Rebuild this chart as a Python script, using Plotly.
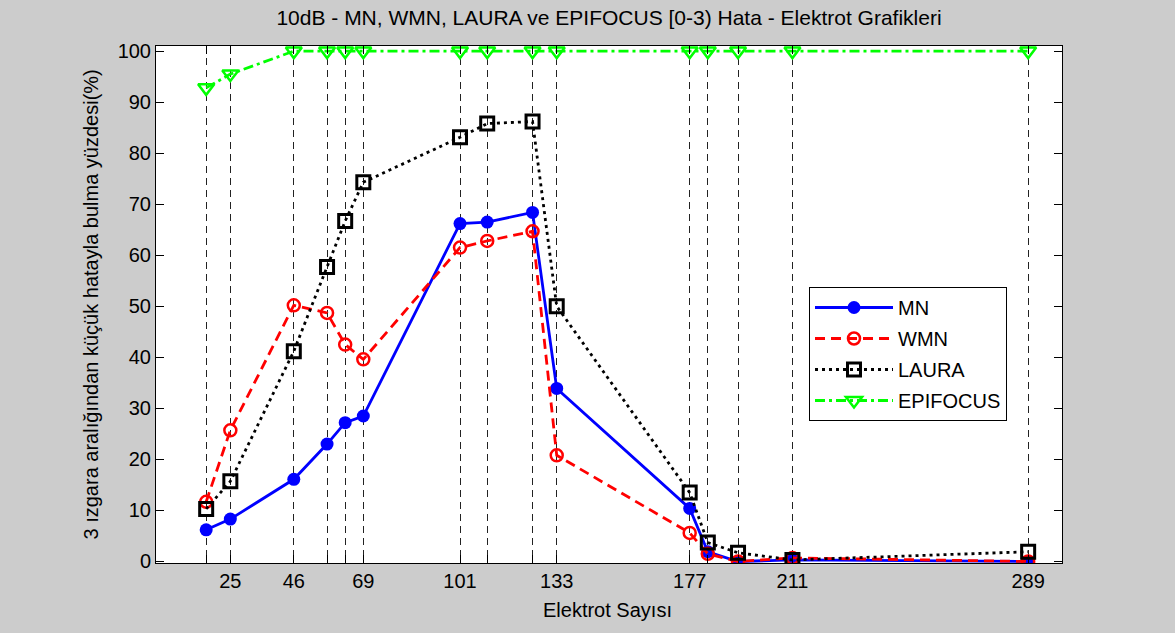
import plotly.graph_objects as go

electrodes = [17, 25, 46, 57, 63, 69, 101, 110, 125, 133, 177, 183, 193, 211, 289]
tick_labels = ["", "25", "46", "", "", "69", "101", "", "", "133", "177", "", "", "211", "289"]

mn = [6.2, 8.3, 16.1, 23.0, 27.2, 28.5, 66.2, 66.5, 68.4, 33.9, 10.4, 1.9, 0.0, 0.3, 0.0]
wmn = [11.7, 25.7, 50.2, 48.7, 42.5, 39.6, 61.5, 62.8, 64.7, 20.8, 5.6, 1.5, 0.0, 0.7, 0.0]
laura = [10.3, 15.7, 41.2, 57.7, 66.7, 74.3, 83.1, 85.8, 86.2, 50.0, 13.5, 3.7, 1.7, 0.3, 1.9]
epifocus = [92.8, 95.5, 100, 100, 100, 100, 100, 100, 100, 100, 100, 100, 100, 100, 100]

title_text = "10dB - MN, WMN, LAURA ve EPIFOCUS [0-3) Hata - Elektrot Grafikleri"
xlabel = "Elektrot Sayısı"
ylabel = "3 ızgara aralığından küçük hatayla bulma yüzdesi(%)"

FONT = "Liberation Sans, Arial, sans-serif"

fig = go.Figure()
fig.add_trace(go.Scatter(
    x=electrodes, y=mn, name="MN", mode="lines+markers", legendgroup="g1",
    line=dict(color="#0000ff", width=2.8),
    marker=dict(symbol="circle", size=13, color="#0000ff"),
))
fig.add_trace(go.Scatter(
    x=electrodes, y=wmn, name="WMN", mode="lines+markers", legendgroup="g2",
    line=dict(color="#ff0000", width=2.8, dash="10px,6px"),
    marker=dict(symbol="circle-open", size=12, color="#ff0000", line=dict(width=2.5)),
))
fig.add_trace(go.Scatter(
    x=electrodes, y=laura, name="LAURA", mode="lines+markers", legendgroup="g3",
    line=dict(color="#000000", width=2.8, dash="3px,4px"),
    marker=dict(symbol="square-open", size=13, color="#000000", line=dict(width=3)),
))
fig.add_trace(go.Scatter(
    x=electrodes, y=epifocus, name="EPIFOCUS", mode="lines+markers", legendgroup="g4",
    line=dict(color="#00ff00", width=2.8, dash="10px,4px,3px,4px"),
    marker=dict(symbol="triangle-down-open", size=14, color="#00ff00", line=dict(width=2.5)),
))

fig.update_layout(
    width=1175, height=633,
    paper_bgcolor="#cccccc", plot_bgcolor="#ffffff",
    margin=dict(l=156, r=113, t=46, b=70, pad=0),
    font=dict(family=FONT, size=20, color="#000000"),
    title=dict(text=title_text, x=0.5, xref="paper", xanchor="center",
               y=1 - 18 / 633, yref="container", yanchor="middle",
               font=dict(family=FONT, size=21, color="#000000")),
    showlegend=True,
    legend=dict(x=(809 - 156) / 906, xanchor="left", y=(563 - 287) / 517, yanchor="top",
                bgcolor="#ffffff", bordercolor="#000000", borderwidth=1,
                font=dict(family=FONT, size=20, color="#000000"),
                itemwidth=78, traceorder="grouped", tracegroupgap=2),
    xaxis=dict(range=[0.4, 300.2], tickmode="array", tickvals=electrodes, ticktext=tick_labels,
               showgrid=True, gridcolor="#222222", gridwidth=1, griddash="7px,5px",
               zeroline=False, showline=True, linecolor="#000000", linewidth=1, mirror="ticks",
               ticks="inside", ticklen=8, tickcolor="#000000",
               tickfont=dict(family=FONT, size=20, color="#000000")),
    yaxis=dict(range=[-0.3, 101], tickmode="array", tickvals=list(range(0, 101, 10)),
               showgrid=False, zeroline=False, showline=True, linecolor="#000000", linewidth=1,
               mirror="ticks", ticks="inside", ticklen=8, tickcolor="#000000",
               tickfont=dict(family=FONT, size=20, color="#000000")),
    annotations=[
        dict(text=xlabel, xref="paper", yref="paper", x=(607 - 156) / 906, y=-(610 - 563) / 517,
             xanchor="center", yanchor="middle", showarrow=False,
             font=dict(family=FONT, size=20, color="#000000")),
        dict(text=ylabel, xref="paper", yref="paper", x=(90 - 156) / 906, y=0.5,
             xanchor="center", yanchor="middle", textangle=-90, showarrow=False,
             font=dict(family=FONT, size=20, color="#000000")),
    ],
)

fig.write_html("out.html", config={"displayModeBar": False},
               post_script="document.body.style.margin='0px';document.body.style.overflow='hidden';")
